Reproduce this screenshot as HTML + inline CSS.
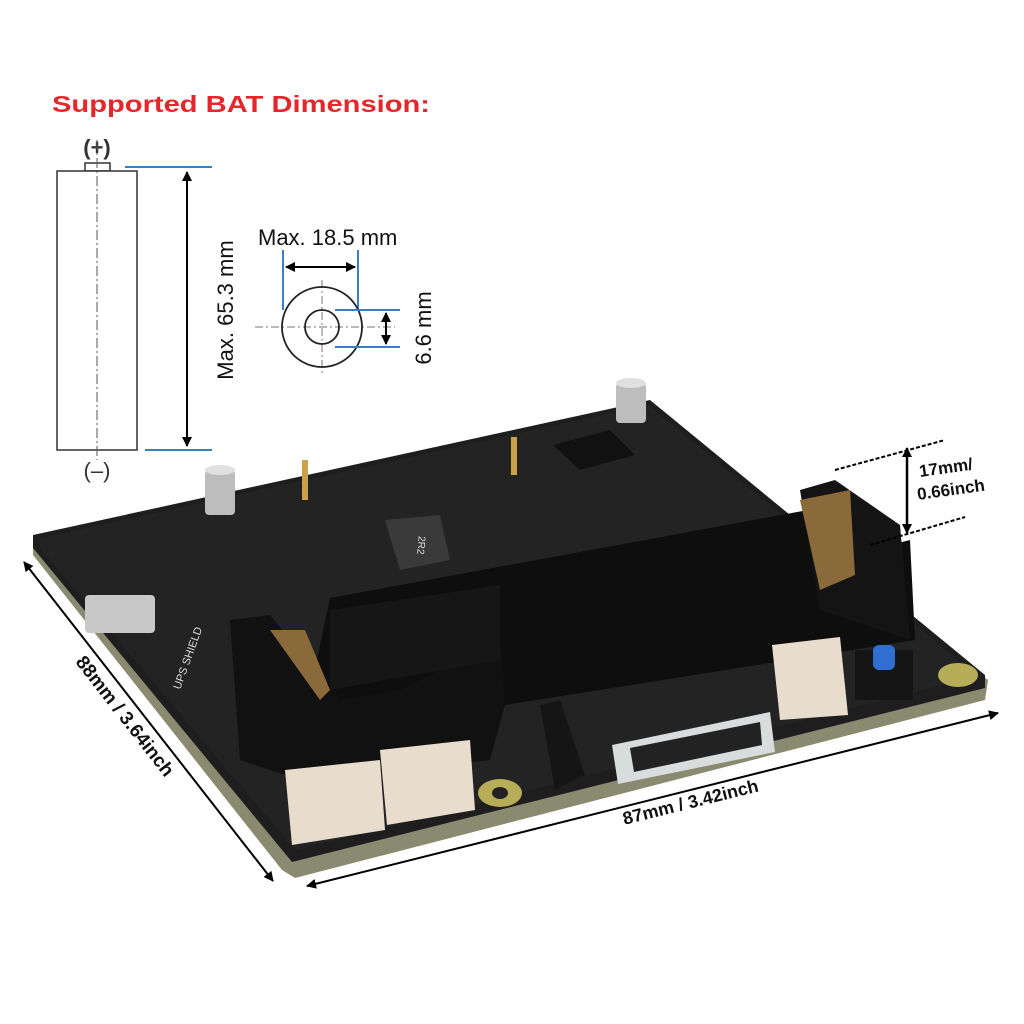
<!DOCTYPE html>
<html><head><meta charset="utf-8"><style>
html,body{margin:0;padding:0;background:#fff;}
svg{display:block;}
text{font-family:"Liberation Sans",Arial,sans-serif;}
</style></head><body>
<svg width="1024" height="1024" viewBox="0 0 1024 1024" xmlns="http://www.w3.org/2000/svg">
<defs>
<marker id="ah" markerWidth="10" markerHeight="10" refX="9" refY="5" orient="auto" markerUnits="userSpaceOnUse"><path d="M0,0 L10,5 L0,10 z" fill="#000"/></marker>
<marker id="ahs" markerWidth="10" markerHeight="10" refX="1" refY="5" orient="auto" markerUnits="userSpaceOnUse"><path d="M10,0 L0,5 L10,10 z" fill="#000"/></marker>
</defs>
<rect width="1024" height="1024" fill="#fff"/>
<text x="52" y="112" font-size="23" font-weight="bold" fill="#e5262a" textLength="378" lengthAdjust="spacingAndGlyphs">Supported BAT Dimension:</text>

<!-- battery -->
<text x="97" y="155" font-size="22" font-weight="bold" text-anchor="middle" fill="#333">(+)</text>
<rect x="85" y="163" width="25" height="8" fill="#fff" stroke="#333" stroke-width="1.5"/>
<rect x="57" y="171" width="80" height="279" fill="#fff" stroke="#333" stroke-width="1.5"/>
<line x1="97" y1="140" x2="97" y2="460" stroke="#555" stroke-dasharray="10,3,2,3"/>
<text x="97" y="478" font-size="22" text-anchor="middle" fill="#333">(–)</text>
<line x1="125" y1="167" x2="212" y2="167" stroke="#3a7fc1" stroke-width="2"/>
<line x1="145" y1="450" x2="212" y2="450" stroke="#3a7fc1" stroke-width="2"/>
<line x1="187" y1="172" x2="187" y2="446" stroke="#000" stroke-width="2" marker-end="url(#ah)" marker-start="url(#ahs)"/>
<text transform="translate(233,310) rotate(-90)" font-size="22" text-anchor="middle" fill="#111">Max. 65.3 mm</text>

<!-- cross-section -->
<text x="258" y="245" font-size="22" fill="#111">Max. 18.5 mm</text>
<line x1="283" y1="250" x2="283" y2="310" stroke="#3a7fc1" stroke-width="2"/>
<line x1="358" y1="250" x2="358" y2="310" stroke="#3a7fc1" stroke-width="2"/>
<line x1="286" y1="267" x2="355" y2="267" stroke="#000" stroke-width="2" marker-end="url(#ah)" marker-start="url(#ahs)"/>
<line x1="255" y1="327" x2="395" y2="327" stroke="#777" stroke-dasharray="8,3,2,3"/>
<line x1="322" y1="280" x2="322" y2="375" stroke="#777" stroke-dasharray="8,3,2,3"/>
<circle cx="322" cy="327" r="40" fill="none" stroke="#222" stroke-width="1.8"/>
<circle cx="322" cy="327" r="17" fill="none" stroke="#222" stroke-width="1.8"/>
<line x1="335" y1="310" x2="400" y2="310" stroke="#3a7fc1" stroke-width="2"/>
<line x1="335" y1="347" x2="400" y2="347" stroke="#3a7fc1" stroke-width="2"/>
<line x1="386" y1="313" x2="386" y2="344" stroke="#000" stroke-width="2" marker-end="url(#ah)" marker-start="url(#ahs)"/>
<text transform="translate(431,328) rotate(-90)" font-size="22" text-anchor="middle" fill="#111">6.6 mm</text>

<!-- board -->
<polygon points="33,540 650,405 988,680 985,700 295,878 282,870 33,555" fill="#8a8a70"/>
<polygon points="33,535 650,400 985,675 985,688 292,862 33,548" fill="#1e1e1e"/>
<polygon points="40,538 648,405 978,676 295,850 40,548" fill="#232323"/>
<rect x="205" y="470" width="30" height="45" fill="#bdbdbd" rx="4"/>
<ellipse cx="220" cy="470" rx="15" ry="5" fill="#e0e0e0"/>
<rect x="616" y="383" width="30" height="40" fill="#bdbdbd" rx="4"/>
<ellipse cx="631" cy="383" rx="15" ry="5" fill="#e0e0e0"/>
<rect x="302" y="460" width="6" height="40" fill="#c9a24a"/>
<rect x="511" y="437" width="6" height="38" fill="#c9a24a"/>
<polygon points="553,445 610,430 635,455 580,470" fill="#111"/>
<polygon points="385,520 440,515 450,560 400,570" fill="#3a3a3a"/>
<text transform="translate(418,545) rotate(95)" font-size="10" fill="#ddd" text-anchor="middle">2R2</text>
<rect x="85" y="595" width="70" height="38" fill="#c8c8c8" rx="4"/>
<polygon points="330,598 808,510 830,560 910,540 915,640 505,705 300,740" fill="#0e0e0e"/>
<polygon points="800,490 835,480 900,525 910,640 820,610" fill="#141414"/>
<polygon points="230,620 270,615 340,700 400,690 500,640 505,705 490,760 300,780 240,760" fill="#111"/>
<polygon points="800,500 850,490 855,575 820,590" fill="#8a6a3a"/>
<polygon points="270,630 305,630 330,690 320,700" fill="#8a6a3a"/>
<polygon points="330,610 500,585 500,660 330,690" fill="#161616"/>
<polygon points="285,770 380,760 385,830 292,845" fill="#e8dccd"/>
<polygon points="380,750 470,740 475,810 387,825" fill="#e8dccd"/>
<polygon points="772,645 840,637 848,715 780,720" fill="#e8dccd"/>
<rect x="855" y="650" width="58" height="50" fill="#151515"/>
<rect x="873" y="645" width="22" height="25" rx="6" fill="#2f6fd1"/>
<polygon points="540,705 560,700 585,775 555,790" fill="#151515"/>
<polygon points="612,745 770,712 775,752 618,784" fill="#d8dcdc"/>
<polygon points="630,748 760,722 762,745 634,772" fill="#222"/>
<ellipse cx="500" cy="793" rx="22" ry="14" fill="#b7ad59"/>
<ellipse cx="500" cy="793" rx="8" ry="6" fill="#222"/>
<ellipse cx="958" cy="675" rx="20" ry="12" fill="#b7ad59"/>
<text transform="translate(180,690) rotate(-70)" font-size="11" fill="#ddd">UPS SHIELD</text>

<!-- dimensions -->
<line x1="24" y1="562" x2="273" y2="881" stroke="#000" stroke-width="2" marker-end="url(#ah)" marker-start="url(#ahs)"/>
<text transform="translate(120,720) rotate(52)" font-size="19" font-weight="bold" text-anchor="middle" fill="#111">88mm / 3.64inch</text>
<line x1="307" y1="886" x2="998" y2="713" stroke="#000" stroke-width="2" marker-end="url(#ah)" marker-start="url(#ahs)"/>
<text transform="translate(692,808) rotate(-14)" font-size="18" font-weight="bold" text-anchor="middle" fill="#111">87mm / 3.42inch</text>
<line x1="835" y1="470" x2="945" y2="440" stroke="#000" stroke-width="2" stroke-dasharray="4,2"/>
<line x1="870" y1="545" x2="965" y2="517" stroke="#000" stroke-width="2" stroke-dasharray="4,2"/>
<line x1="907" y1="448" x2="907" y2="533" stroke="#000" stroke-width="2.5" marker-end="url(#ah)" marker-start="url(#ahs)"/>
<text transform="translate(920,477) rotate(-8)" font-size="17" font-weight="bold" fill="#111">17mm/</text>
<text transform="translate(918,500) rotate(-8)" font-size="17" font-weight="bold" fill="#111">0.66inch</text>
</svg>
</body></html>
